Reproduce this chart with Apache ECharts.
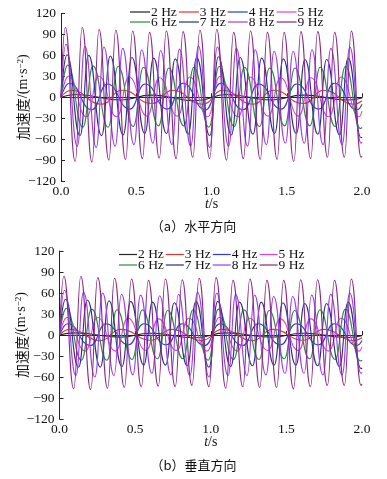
<!DOCTYPE html>
<html><head><meta charset="utf-8">
<script src="https://cdn.jsdelivr.net/npm/echarts@6/dist/echarts.min.js"></script>
<style>html,body{margin:0;padding:0;background:#fff}#c{width:387px;height:479px}</style>
</head><body><div id="c"></div>
<script>
const seriesNames = ['2 Hz','3 Hz','4 Hz','5 Hz','6 Hz','7 Hz','8 Hz','9 Hz'];
const seriesColors = ['#222222','#e5322c','#2f3ad6','#e040dc','#2f8a3c','#2a2f86','#9a3ef0','#8a2a84'];
const xTicks = [0, 0.5, 1.0, 1.5, 2.0];
const yTicks = [-120, -90, -60, -30, 0, 30, 60, 90, 120];
const captionA = '（a）水平方向';
const captionB = '（b）垂直方向';

// Panel (a) horizontal direction: [t (s), acceleration (m/s^2)]
const a2 = [[0,0],[0.10,4],[0.40,-4],[0.60,3],[0.90,-5],[1.10,4],[1.40,-4],[1.61,3],[1.91,-4],[2.0,-1]];
const a3 = [[0,0],[0.07,10],[0.27,-10],[0.405,10],[0.605,-9],[0.741,10],[0.941,-10],[1.076,10],[1.276,-10],[1.411,10],[1.611,-9],[1.747,10],[1.947,-10],[2.0,-5]];
const a4 = [[0,0],[0.055,20],[0.205,-18],[0.307,19],[0.457,-17],[0.558,19],[0.708,-17],[0.810,20],[0.960,-18],[1.061,20],[1.211,-18],[1.313,19],[1.463,-17],[1.564,19],[1.714,-17],[1.816,20],[1.966,-18],[2.0,-10]];
const a5 = [[0,0],[0.05,30],[0.17,-28],[0.251,30],[0.371,-28],[0.452,29],[0.572,-27],[0.654,28],[0.774,-27],[0.855,29],[0.975,-28],[1.056,30],[1.176,-28],[1.257,29],[1.377,-27],[1.459,28],[1.579,-27],[1.66,28],[1.78,-28],[1.861,29],[1.981,-28],[2.0,-20]];
const a6 = [[0,0],[0.045,46],[0.145,-43],[0.213,45],[0.313,-43],[0.38,44],[0.48,-42],[0.548,43],[0.648,-41],[0.716,42],[0.816,-41],[0.883,43],[0.983,-43],[1.051,44],[1.151,-42],[1.219,43],[1.319,-42],[1.386,42],[1.486,-41],[1.554,42],[1.654,-41],[1.722,43],[1.822,-42],[1.89,44],[1.99,-45],[2.0,-43]];
const a7 = [[0,0],[0.04,61],[0.126,-55],[0.184,60],[0.27,-55],[0.327,59],[0.413,-54],[0.471,57],[0.557,-52],[0.615,56],[0.701,-52],[0.759,55],[0.845,-53],[0.902,57],[0.988,-55],[1.046,58],[1.132,-54],[1.19,57],[1.276,-53],[1.333,56],[1.419,-52],[1.477,55],[1.563,-52],[1.621,54],[1.707,-53],[1.765,54],[1.851,-54],[1.908,56],[1.994,-58],[2.0,-57]];
const a8 = [[0,0],[0.033,76],[0.108,-70],[0.159,73],[0.234,-72],[0.285,72],[0.36,-70],[0.41,70],[0.485,-68],[0.536,68],[0.611,-66],[0.662,67],[0.737,-68],[0.787,69],[0.862,-70],[0.913,73],[0.988,-72],[1.039,72],[1.114,-70],[1.165,70],[1.24,-70],[1.29,68],[1.365,-68],[1.416,66],[1.491,-66],[1.542,66],[1.617,-66],[1.667,68],[1.742,-68],[1.793,70],[1.868,-68],[1.919,72],[1.994,-66],[2.0,-64]];
const a9 = [[0,0],[0.029,100],[0.094,-92],[0.141,100],[0.206,-93],[0.253,97],[0.318,-90],[0.364,96],[0.429,-89],[0.476,95],[0.541,-88],[0.588,93],[0.653,-87],[0.70,95],[0.765,-88],[0.811,94],[0.876,-86],[0.923,96],[0.988,-88],[1.035,97],[1.10,-90],[1.147,93],[1.212,-88],[1.259,95],[1.324,-89],[1.371,93],[1.436,-89],[1.482,93],[1.547,-92],[1.594,94],[1.659,-88],[1.706,94],[1.771,-86],[1.818,93],[1.883,-86],[1.929,95],[1.994,-86],[2.0,-84]];

// Panel (b) vertical direction
const b2 = [[0,0],[0.10,3],[0.40,-3],[0.60,2.5],[0.90,-4],[1.10,3],[1.40,-3],[1.61,2.5],[1.91,-3.5],[2.0,-1]];
const b3 = [[0,0],[0.07,8],[0.27,-8],[0.405,8],[0.605,-7.5],[0.741,8],[0.941,-8],[1.076,8],[1.276,-8],[1.411,8],[1.611,-7.5],[1.747,8],[1.947,-8],[2.0,-4]];
const b4 = [[0,0],[0.055,16],[0.205,-15],[0.307,16],[0.457,-14],[0.558,16],[0.708,-14],[0.810,16],[0.960,-15],[1.061,16],[1.211,-15],[1.313,16],[1.463,-14],[1.564,16],[1.714,-14],[1.816,16],[1.966,-15],[2.0,-8]];
const b5 = [[0,0],[0.05,25],[0.17,-23],[0.251,25],[0.371,-23],[0.452,24],[0.572,-22],[0.654,23],[0.774,-22],[0.855,24],[0.975,-23],[1.056,25],[1.176,-23],[1.257,24],[1.377,-22],[1.459,23],[1.579,-22],[1.66,23],[1.78,-23],[1.861,24],[1.981,-23],[2.0,-17]];
const b6 = [[0,0],[0.045,38],[0.145,-36],[0.213,37],[0.313,-36],[0.38,36],[0.48,-35],[0.548,36],[0.648,-34],[0.716,35],[0.816,-34],[0.883,36],[0.983,-36],[1.051,37],[1.151,-35],[1.219,36],[1.319,-35],[1.386,35],[1.486,-34],[1.554,35],[1.654,-34],[1.722,36],[1.822,-35],[1.89,37],[1.99,-37],[2.0,-36]];
const b7 = [[0,0],[0.04,51],[0.126,-46],[0.184,50],[0.27,-46],[0.327,49],[0.413,-45],[0.471,48],[0.557,-43],[0.615,47],[0.701,-43],[0.759,46],[0.845,-44],[0.902,48],[0.988,-46],[1.046,48],[1.132,-45],[1.19,47],[1.276,-44],[1.333,47],[1.419,-43],[1.477,46],[1.563,-43],[1.621,45],[1.707,-44],[1.765,45],[1.851,-45],[1.908,47],[1.994,-48],[2.0,-47]];
const b8 = [[0,0],[0.033,64],[0.108,-58],[0.159,61],[0.234,-60],[0.285,60],[0.36,-58],[0.41,58],[0.485,-57],[0.536,57],[0.611,-55],[0.662,56],[0.737,-57],[0.787,58],[0.862,-58],[0.913,61],[0.988,-60],[1.039,60],[1.114,-58],[1.165,58],[1.24,-58],[1.29,57],[1.365,-57],[1.416,55],[1.491,-55],[1.542,55],[1.617,-55],[1.667,57],[1.742,-57],[1.793,58],[1.868,-57],[1.919,60],[1.994,-55],[2.0,-53]];
const b9 = [[0,0],[0.029,84],[0.094,-77],[0.141,84],[0.206,-78],[0.253,82],[0.318,-76],[0.364,81],[0.429,-75],[0.476,80],[0.541,-74],[0.588,78],[0.653,-73],[0.70,80],[0.765,-74],[0.811,79],[0.876,-72],[0.923,81],[0.988,-74],[1.035,82],[1.10,-76],[1.147,78],[1.212,-74],[1.259,80],[1.324,-75],[1.371,78],[1.436,-75],[1.482,78],[1.547,-77],[1.594,79],[1.659,-74],[1.706,79],[1.771,-72],[1.818,78],[1.883,-72],[1.929,80],[1.994,-72],[2.0,-70]];

const panelA = [a2,a3,a4,a5,a6,a7,a8,a9];
const panelB = [b2,b3,b4,b5,b6,b7,b8,b9];

const serif = '"Liberation Serif", "Times New Roman", serif';
const cjk = '"Noto Sans CJK SC", sans-serif';
function yFmt(v){ return v < 0 ? '\u2212' + Math.abs(v) : String(v); }

function makeX(gi){
  return {
    type:'value', gridIndex:gi, min:xTicks[0], max:xTicks[xTicks.length-1], interval:xTicks[1]-xTicks[0],
    axisLine:{show:true, lineStyle:{color:'#222', width:1}},
    axisTick:{show:true, inside:true, length:4, lineStyle:{color:'#222'}},
    axisLabel:{margin:3, fontFamily:serif, fontSize:13.5, color:'#111', formatter:v=>v.toFixed(1)},
    splitLine:{show:false},
    name:'{i|t}/s', nameLocation:'middle', nameGap:16, nameMoveOverlap:false,
    nameTextStyle:{fontFamily:serif, fontSize:14, color:'#111', rich:{i:{fontFamily:serif, fontStyle:'italic', fontSize:14, color:'#111'}}}
  };
}
function makeY(gi){
  return {
    type:'value', gridIndex:gi, min:yTicks[0], max:yTicks[yTicks.length-1], interval:yTicks[1]-yTicks[0],
    axisLine:{show:true, lineStyle:{color:'#222', width:1}},
    axisTick:{show:true, inside:true, length:4, lineStyle:{color:'#222'}},
    axisLabel:{margin:5, fontFamily:serif, fontSize:13.5, color:'#111', formatter:yFmt},
    splitLine:{show:false},
    name:'{c|加速度}/(m·s{s|\u22122})', nameLocation:'middle', nameGap:31, nameRotate:90, nameMoveOverlap:false,
    nameTextStyle:{fontFamily:serif, fontSize:14, color:'#111',
      rich:{c:{fontFamily:cjk, fontSize:14, color:'#111'}, s:{fontFamily:serif, fontSize:9, color:'#111', verticalAlign:'top'}}}
  };
}

const series = [];
panelA.forEach((d,i)=>series.push({type:'line', name:seriesNames[i], xAxisIndex:0, yAxisIndex:0, data:d, smooth:0.5, smoothMonotone:'x', symbol:'none', lineStyle:{width:1.1, color:seriesColors[i]}, itemStyle:{color:seriesColors[i]}, animation:false, z:2+i}));
panelB.forEach((d,i)=>series.push({type:'line', name:seriesNames[i], xAxisIndex:1, yAxisIndex:1, data:d, smooth:0.5, smoothMonotone:'x', symbol:'none', lineStyle:{width:1.1, color:seriesColors[i]}, itemStyle:{color:seriesColors[i]}, animation:false, z:2+i}));

function makeLegend(names, left, top, w){
  return {data:names, left:left, top:top, orient:'horizontal', icon:'rect', itemWidth:w, itemHeight:1.2, itemGap:2, padding:0,
    selectedMode:false, textStyle:{fontFamily:serif, fontSize:13.5, color:'#111', padding:[0,0,0,-4]}};
}

const chart = echarts.init(document.getElementById('c'), null, {renderer:'canvas'});
chart.setOption({
  animation:false,
  backgroundColor:'#fff',
  grid:[{left:61, top:13.5, width:301, height:167.5}, {left:59.5, top:251, width:302.5, height:168}],
  xAxis:[makeX(0), makeX(1)],
  yAxis:[makeY(0), makeY(1)],
  legend:[
    makeLegend(seriesNames.slice(0,4), 130, 5, 20),
    makeLegend(seriesNames.slice(4), 130, 15, 20),
    makeLegend(seriesNames.slice(0,4), 119, 247.5, 18),
    makeLegend(seriesNames.slice(4), 119, 258, 18)
  ],
  graphic:[
    {type:'text', left:'center', top:220, style:{text:captionA, font:'13px "Noto Sans CJK SC"', fill:'#111'}},
    {type:'text', left:'center', top:459, style:{text:captionB, font:'13px "Noto Sans CJK SC"', fill:'#111'}}
  ],
  series:series
});
</script></body></html>
